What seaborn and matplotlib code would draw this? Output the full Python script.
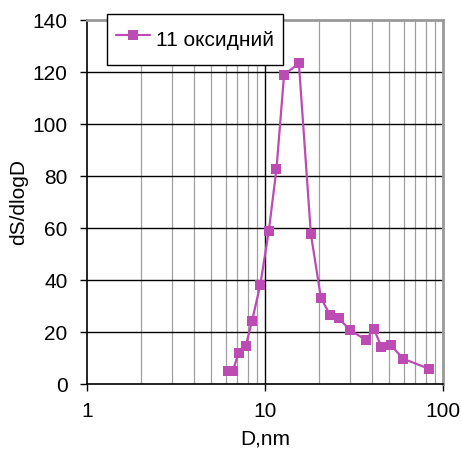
import matplotlib
matplotlib.use("Agg")
import matplotlib.pyplot as plt
import seaborn as sns
import pandas as pd
from matplotlib.ticker import FixedLocator, NullFormatter
from matplotlib.lines import Line2D

diameter_nm = [6.2, 6.6, 7.1, 7.8, 8.45, 9.4, 10.5, 11.6, 12.8, 15.5, 18.1,
               20.6, 23.2, 26.0, 30.0, 36.9, 40.9, 45.0, 50.8, 59.8, 83.8]
dS_dlogD = [5.0, 5.0, 12.0, 14.7, 24.2, 38.0, 58.8, 82.7, 119.0, 123.3, 57.7,
            33.2, 26.5, 25.2, 20.8, 16.9, 21.2, 14.4, 15.0, 9.7, 5.8]
series_name = "11 оксидний"
y_ticks = [0, 20, 40, 60, 80, 100, 120, 140]
x_ticks = [1, 10, 100]
x_tick_labels = ["1", "10", "100"]

df = pd.DataFrame({"D": diameter_nm, "val": dS_dlogD, "series": series_name})

sns.set_style("white")
plt.rcParams["font.family"] = ["Liberation Sans", "DejaVu Sans"]
plt.rcParams["text.color"] = "black"
plt.rcParams["axes.labelcolor"] = "black"
plt.rcParams["xtick.color"] = "black"
plt.rcParams["ytick.color"] = "black"

fig = plt.figure(figsize=(4.61, 4.49), dpi=100)
ax = fig.add_axes([87/461, 65/449, (443-87)/461, (384-20)/449])

color = "#BC4BB4"
sns.lineplot(data=df, x="D", y="val", hue="series", palette=[color],
             marker="s", markersize=7, markeredgewidth=0, linewidth=1.6,
             ax=ax, legend=False, zorder=5)
ax.set_xscale("log")
ax.set_xlim(1, 100)
ax.set_ylim(0, 140)

# grid
minor = [m * d for d in (1, 10) for m in range(2, 10)]
for x in minor:
    ax.axvline(x, color="#A0A0A0", lw=0.9, zorder=1)
ax.axvline(10, color="black", lw=1.0, zorder=1)
for y in y_ticks[1:-1]:
    ax.axhline(y, color="black", lw=1.0, zorder=1)

ax.xaxis.set_major_locator(FixedLocator(x_ticks))
ax.set_xticklabels(x_tick_labels)
ax.xaxis.set_minor_locator(FixedLocator(minor))
ax.xaxis.set_minor_formatter(NullFormatter())
ax.set_yticks(y_ticks)
ax.tick_params(axis="both", which="major", labelsize=15, direction="out",
               length=5, width=1.0, color="black", labelcolor="black",
               left=True, bottom=True)
ax.tick_params(axis="y", which="major", pad=9)
ax.tick_params(axis="x", which="major", pad=8)
ax.tick_params(axis="x", which="minor", length=0)

for s in ["left", "bottom"]:
    ax.spines[s].set_color("black")
    ax.spines[s].set_linewidth(1.2)
for s in ["right", "top"]:
    ax.spines[s].set_color("#999999")
    ax.spines[s].set_linewidth(2.0)

ax.set_xlabel("D,nm", fontsize=15, labelpad=6, color="black")
ax.set_ylabel("dS/dlogD", fontsize=15, labelpad=3, color="black")

h = Line2D([], [], color=color, marker="s", markersize=7, markeredgewidth=0, lw=1.6)
leg = fig.legend([h], [series_name], loc="upper left",
                 bbox_to_anchor=(107/461, 1 - 14/449), fontsize=15,
                 frameon=True, fancybox=False, framealpha=1, edgecolor="black",
                 handlelength=1.6, handleheight=2.0, borderpad=0.45,
                 handletextpad=0.3, borderaxespad=0)
leg.get_frame().set_linewidth(1.0)
leg.set_zorder(10)
for t in leg.get_texts():
    t.set_color("black")

fig.savefig("out.png", dpi=100)
